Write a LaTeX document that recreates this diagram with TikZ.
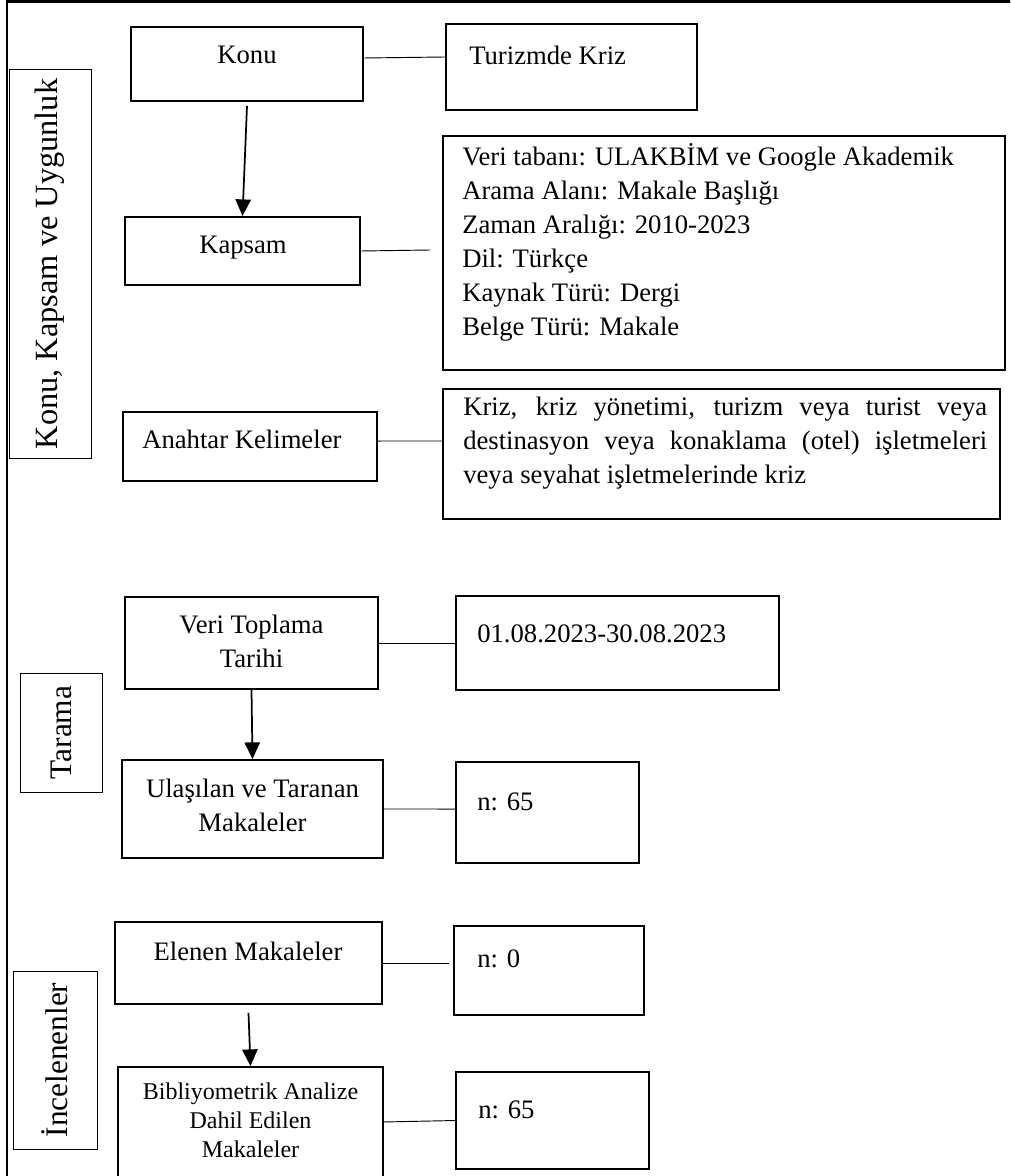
\documentclass[tikz,border=0pt]{standalone}
\usepackage{fontspec}
\setmainfont{Liberation Serif}
\usetikzlibrary{arrows.meta}
\newcommand\FMain{\fontsize{20}{25.6}\selectfont}
\newcommand\FSmall{\fontsize{18}{22}\selectfont}
\newcommand\FLab{\fontsize{23.5}{28}\selectfont}
\newcommand\FLabBig{\fontsize{24.3}{29}\selectfont}
\tikzset{
  box/.style={draw, line width=1.4pt, inner sep=0pt},
  sz/.style 2 args={minimum width=#1*0.75pt, minimum height=#2*0.75pt},
  labbox/.style={draw, line width=0.75pt, inner sep=0pt, rotate=90, font=\FLab},
  conn/.style={line width=0.7pt},
  arr/.style={line width=1.3pt, -{Triangle[length=12.5pt,width=11.5pt]}},
  txt/.style={inner sep=0pt, font=\FMain},
}
\begin{document}
\begin{tikzpicture}[x=0.75pt,y=-0.75pt]
\useasboundingbox (0,0) rectangle (1010,1176);
\clip (0,0) rectangle (1010,1176);
\draw[line width=2pt] (7,1180) -- (7,1.5) -- (1012,1.5);

% boxes
\node[box, sz={232}{74}]  (konu)    at (247,64) {};
\node[box, sz={251}{86}]  (turizm)  at (571.5,67) {};
\node[box, sz={235}{68}]  (kapsam)  at (242.5,251) {};
\node[box, sz={562}{234}] (scope)   at (724,253) {};
\node[box, sz={254}{69}]  (anahtar) at (250,446.5) {};
\node[box, sz={557}{130}] (keyw)    at (721.5,454) {};
\node[box, sz={253}{92}]  (veri)    at (251.5,643) {};
\node[box, sz={323}{94}]  (date)    at (617.5,643) {};
\node[box, sz={261}{98}]  (ulas)    at (252.5,809) {};
\node[box, sz={183}{101}] (n65a)    at (547.5,812.5) {};
\node[box, sz={267}{82}]  (elenen)  at (248.5,963) {};
\node[box, sz={190}{89}]  (nzero)   at (549,970.5) {};
\node[box, sz={265}{123}] (bibl)    at (250.5,1128.5) {};
\node[box, sz={193}{97}]  (n65b)    at (552.5,1120.5) {};

% side labels
\node[labbox, font=\FLabBig, sz={388}{82}] (lab1) at (50,264) {Konu, Kapsam ve Uygunluk};
\node[labbox, sz={119}{82}] (lab2) at (61,732.5) {Tarama};
\node[labbox, sz={178}{84}] (lab3) at (55,1060) {İncelenenler};

% texts
\node[txt, anchor=base] (tkonu) at (247,64) {Konu};
\node[txt, anchor=base west] (tturizm) at (469,65) {Turizmde Kriz};
\node[txt, anchor=base] (tkapsam) at (243,254) {Kapsam};
\node[txt, anchor=north west, align=left] (tscope) at (462,141.1)
  {\strut Veri tabanı: ULAKBİM ve Google Akademik\\Arama Alanı: Makale Başlığı\\Zaman Aralığı: 2010-2023\\Dil: Türkçe\\Kaynak Türü: Dergi\\Belge Türü: Makale};
\node[txt, anchor=base west] (tanahtar) at (142,448) {Anahtar Kelimeler};
\node[txt, anchor=north west, text width=393pt, align=justify] (tkeyw) at (463,391)
  {\tolerance=10000\hyphenpenalty=10000\strut Kriz, kriz yönetimi, turizm veya turist veya\linebreak destinasyon veya konaklama (otel) işletmeleri\linebreak veya seyahat işletmelerinde kriz};
\node[txt, anchor=north, align=center] (tveri) at (251.5,609.1) {\strut Veri Toplama\\Tarihi};
\node[txt, anchor=base west] (tdate) at (477,642) {01.08.2023-30.08.2023};
\node[txt, anchor=north, align=center] (tulas) at (252.5,773.1) {\strut Ulaşılan ve Taranan\\Makaleler};
\node[txt, anchor=base west] (tn65a) at (477,810) {n: 65};
\node[txt, anchor=base] (telenen) at (248,960) {Elenen Makaleler};
\node[txt, anchor=base west] (tnzero) at (477,967) {n: 0};
\node[txt, font=\FSmall, anchor=north, align=center] (tbibl) at (250.5,1078.5) {\strut Bibliyometrik Analize\\Dahil Edilen\\Makaleler};
\node[txt, anchor=base west] (tn65b) at (478,1118) {n: 65};

% free ends
\coordinate (kend) at (430,250);
\coordinate (eend) at (449,963);

% connectors
\draw[conn] ([yshift=4.5pt]konu.east) -- ([yshift=7.5pt]turizm.west);
\draw[conn] (kapsam.east) -- (kend);
\draw[conn] ([yshift=4.1pt]anahtar.east) -- ([yshift=9.75pt]keyw.west);
\draw[conn] (veri.east) -- (date.west);
\draw[conn] (ulas.east) -- ([yshift=2.6pt]n65a.west);
\draw[conn] (elenen.east) -- (eend);
\draw[conn] ([yshift=4.9pt]bibl.east) -- (n65b.west);

% arrows
\draw[arr] ([yshift=-3pt]konu.south) -- (kapsam.north);
\draw[arr] (veri.south) -- (ulas.north);
\draw[arr] ([yshift=-6pt]elenen.south) -- (bibl.north);
\end{tikzpicture}
\end{document}
